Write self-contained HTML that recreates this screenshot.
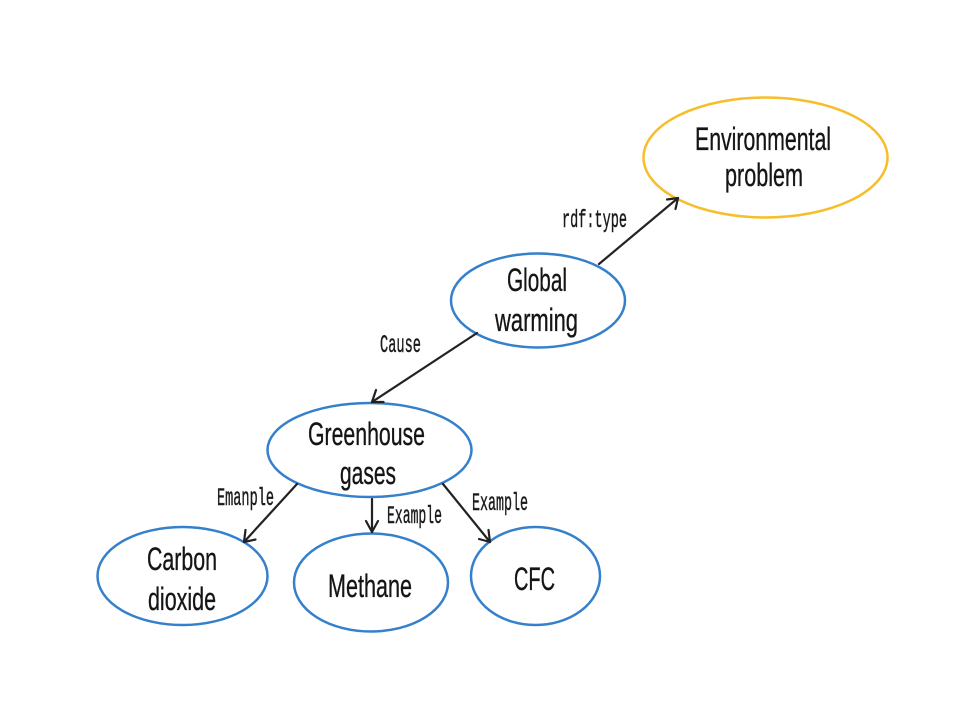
<!DOCTYPE html>
<html>
<head>
<meta charset="utf-8">
<style>
  html,body{margin:0;padding:0;background:#fff;}
  svg{display:block;}
  .n{font-family:"Liberation Sans",sans-serif;font-size:32px;fill:#151515;stroke:#151515;stroke-width:0.35px;}
  .l{font-family:"Liberation Mono",monospace;font-size:25px;fill:#1a1a1a;stroke:#1a1a1a;stroke-width:0.45px;}
</style>
</head>
<body>
<svg width="960" height="720" viewBox="0 0 960 720" xmlns="http://www.w3.org/2000/svg">
  <rect width="960" height="720" fill="#fff"/>

  <!-- ellipses -->
  <ellipse cx="765.5" cy="157.5" rx="122" ry="60" fill="none" stroke="#F7BE2A" stroke-width="2.5"/>
  <ellipse cx="538" cy="300.5" rx="87" ry="47" fill="none" stroke="#3580CC" stroke-width="2.5"/>
  <ellipse cx="369.5" cy="450" rx="102" ry="47" fill="none" stroke="#3580CC" stroke-width="2.5"/>
  <ellipse cx="182.5" cy="576" rx="85" ry="49" fill="none" stroke="#3580CC" stroke-width="2.5"/>
  <ellipse cx="371" cy="582.5" rx="77" ry="49" fill="none" stroke="#3580CC" stroke-width="2.5"/>
  <ellipse cx="535.5" cy="576" rx="64.5" ry="49" fill="none" stroke="#3580CC" stroke-width="2.5"/>

  <!-- connectors -->
  <g stroke="#222" stroke-width="2.2" fill="none" stroke-linecap="round" stroke-linejoin="round">
    <line x1="599" y1="264" x2="678" y2="198"/>
    <polyline points="667,199.5 678,198 675.5,209"/>

    <line x1="477" y1="333" x2="372" y2="402"/>
    <polyline points="376,390 372,402 383.5,402"/>

    <line x1="297" y1="484" x2="244" y2="542"/>
    <polyline points="245.5,530 244,542 255.5,539.5"/>

    <line x1="372" y1="499" x2="372" y2="532"/>
    <polyline points="366,521 372,532 378,521"/>

    <line x1="443" y1="484" x2="490" y2="542"/>
    <polyline points="488.5,530 490,542 479,539"/>
  </g>

  <!-- node labels -->
  <text class="n" x="695" y="150" textLength="136" lengthAdjust="spacingAndGlyphs">Environmental</text>
  <text class="n" x="725" y="186" textLength="78" lengthAdjust="spacingAndGlyphs">problem</text>

  <text class="n" x="507" y="291" textLength="60" lengthAdjust="spacingAndGlyphs">Global</text>
  <text class="n" x="495" y="331" textLength="83" lengthAdjust="spacingAndGlyphs">warming</text>

  <text class="n" x="308" y="445" textLength="117" lengthAdjust="spacingAndGlyphs">Greenhouse</text>
  <text class="n" x="340" y="484" textLength="56" lengthAdjust="spacingAndGlyphs">gases</text>

  <text class="n" x="147" y="570" textLength="70" lengthAdjust="spacingAndGlyphs">Carbon</text>
  <text class="n" x="148" y="610" textLength="68" lengthAdjust="spacingAndGlyphs">dioxide</text>

  <text class="n" x="328" y="597" textLength="84" lengthAdjust="spacingAndGlyphs">Methane</text>

  <text class="n" x="514" y="590" textLength="41" lengthAdjust="spacingAndGlyphs">CFC</text>

  <!-- edge labels -->
  <text class="l" x="562" y="227" textLength="65" lengthAdjust="spacingAndGlyphs">rdf:type</text>
  <text class="l" x="380" y="352" textLength="41" lengthAdjust="spacingAndGlyphs">Cause</text>
  <text class="l" x="217" y="505" textLength="57" lengthAdjust="spacingAndGlyphs">Emanple</text>
  <text class="l" x="387" y="523" textLength="55" lengthAdjust="spacingAndGlyphs">Example</text>
  <text class="l" x="472" y="510" textLength="56" lengthAdjust="spacingAndGlyphs">Example</text>
</svg>
</body>
</html>
